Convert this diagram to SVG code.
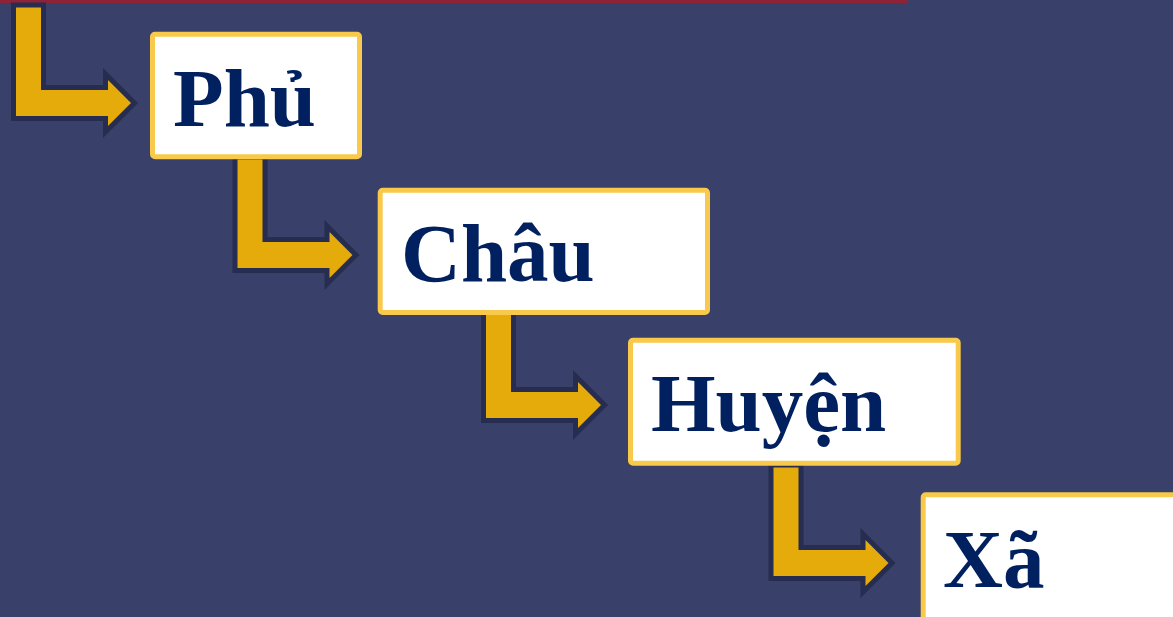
<svg xmlns="http://www.w3.org/2000/svg" width="1173" height="617" viewBox="0 0 1173 617">
<style>
.box{fill:#FFFFFF;stroke:#F8C94A;stroke-width:5}
.lbl{font-family:"Liberation Serif","Times New Roman",serif;font-weight:bold;font-size:83px;fill:#00205F}
.arr{fill:#E4AB0A;stroke:#262D50;stroke-width:5;stroke-linejoin:miter}
</style>
<defs>
<path id="bend" d="M13.5,5 H43.5 V87.5 H105.5 V74 L134.5,103 L105.5,132 V118.5 H13.5 Z"/>
</defs>
<rect x="0" y="0" width="1173" height="617" fill="#394069"/>
<rect x="0" y="0" width="908" height="3.3" fill="#8E2338"/>
<g id="connectors">
<use href="#bend" class="arr"/>
<use href="#bend" class="arr" transform="translate(221.5,152)"/>
<use href="#bend" class="arr" transform="translate(470,302)"/>
<use href="#bend" class="arr" transform="translate(757.5,460)"/>
</g>
<g id="node-phu">
<rect class="box" x="152.5" y="34.2" width="207" height="122.6" rx="2.5"/>
<text class="lbl" x="173" y="126">Phủ</text>
</g>
<g id="node-chau">
<rect class="box" x="380.2" y="190.2" width="327.3" height="122.3" rx="2.5"/>
<text class="lbl" x="401" y="281">Châu</text>
</g>
<g id="node-huyen">
<rect class="box" x="630.5" y="340.2" width="327.7" height="123" rx="2.5"/>
<text class="lbl" x="651" y="431">Huyện</text>
</g>
<g id="node-xa">
<rect class="box" x="923.2" y="494.8" width="260" height="130" rx="2.5"/>
<text class="lbl" x="943" y="586.5">Xã</text>
</g>
</svg>
